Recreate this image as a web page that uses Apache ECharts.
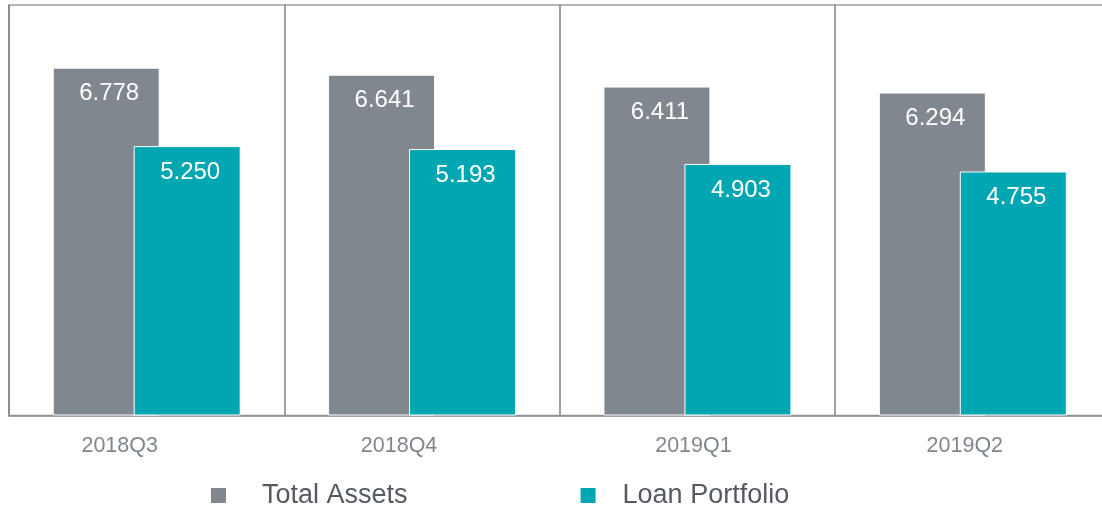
<!DOCTYPE html>
<html><head><meta charset="utf-8">
<script src="https://cdn.jsdelivr.net/npm/echarts@6/dist/echarts.min.js"></script>
<style>html,body{margin:0;padding:0;background:#fff}#c{width:1102px;height:508px}</style>
</head><body><div id="c"></div>
<script>
const categories = ['2018Q3', '2018Q4', '2019Q1', '2019Q2'];
const totalAssets = [6.778, 6.641, 6.411, 6.294];
const loanPortfolio = [5.250, 5.193, 4.903, 4.755];
const seriesNames = ['Total Assets', 'Loan Portfolio'];

// small left shifts of the category labels seen in the reference
const labelShift = [27, 23, 4, 8];
// icon-to-text spacing of each legend entry
const legendTextPad = [31, 22];

const chart = echarts.init(document.getElementById('c'));
const labelCfg = {
  show: true, position: 'insideTop', distance: 14, offset: [3, 0], color: '#fff',
  fontSize: 24, fontFamily: 'Liberation Sans, Arial, sans-serif',
  formatter: p => p.value.toFixed(3)
};
chart.setOption({
  animation: false,
  textStyle: { fontFamily: 'Liberation Sans, Arial, sans-serif' },
  grid: { left: 9, top: 5, width: 1101.5, height: 410.5, outerBoundsMode: 'none', containLabel: false,
          show: true, borderColor: '#9a9da3', borderWidth: 1.5, backgroundColor: 'transparent' },
  legend: {
    left: 211, top: 482, padding: 0, itemWidth: 15, itemHeight: 15, itemGap: 173, icon: 'rect',
    itemStyle: { borderWidth: 0 },
    textStyle: { fontSize: 27, color: '#555a62' },
    data: seriesNames.map((n, i) => ({ name: n, textStyle: { padding: [0, 0, 0, legendTextPad[i]] } }))
  },
  xAxis: {
    type: 'category',
    data: categories.map((c, i) => ({ value: c, textStyle: { padding: [0, labelShift[i] * 2, 0, 0] } })),
    axisLine: { lineStyle: { color: '#8a8d93', width: 1.5 } },
    axisTick: { show: false },
    axisLabel: { color: '#7f868e', fontSize: 21.5, margin: 20 },
    splitLine: { show: true, lineStyle: { color: '#7d8088', width: 1.5 } }
  },
  yAxis: { type: 'value', min: 0, max: 8, show: false, splitLine: { show: false } },
  series: [
    { name: seriesNames[0], type: 'bar', data: totalAssets, barWidth: 107, barGap: '-24.3%',
      itemStyle: { color: '#80878f', borderColor: '#fff', borderWidth: 1 }, label: labelCfg },
    { name: seriesNames[1], type: 'bar', data: loanPortfolio, barWidth: 107,
      itemStyle: { color: '#00a6b2', borderColor: '#fff', borderWidth: 1 }, label: labelCfg }
  ]
});
</script></body></html>
